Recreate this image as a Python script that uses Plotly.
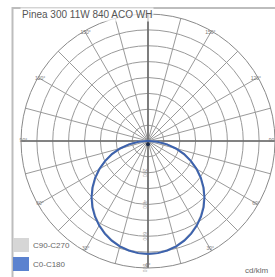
import plotly.graph_objects as go

title_text = "Pinea 300 11W 840 ACO WH"
unit_text = "cd/klm"
series_names = ["C90-C270", "C0-C180"]

gamma = [0, 5, 10, 15, 20, 25, 30, 35, 40, 45, 50, 55, 60, 65, 70, 75, 80, 85, 90, 95, 100, 110, 120, 135, 150, 165, 180]
c0_c180 = [712, 709, 700, 687, 668, 644, 615, 582, 545, 503, 457, 407, 354, 299, 242, 182, 121, 60, 8, 4, 3, 2, 2, 1, 1, 1, 1]
c90_c270 = [712, 708, 699, 685, 666, 641, 612, 579, 541, 499, 453, 403, 351, 296, 239, 180, 119, 59, 8, 4, 3, 2, 2, 1, 1, 1, 1]

ring_vals = [100, 200, 300, 400, 500, 600, 700, 800]
radial_label_vals = [200, 400, 600, 800]
angle_ticks = list(range(0, 360, 15))
label_angles = list(range(0, 360, 30))
label_texts = [f"{t if t <= 180 else 360 - t}°" for t in label_angles]

def full_curve(vals):
    th = [g for g in gamma] + [360 - g for g in reversed(gamma)]
    rr = list(vals) + list(reversed(vals))
    return th, rr

W, H = 275, 277
cx, cy, R = 148, 141, 127
dom_x = [(cx - R) / W, min(1.0, (cx + R) / W)]
dom_y = [(H - cy - R) / H, (H - cy + R) / H]

fig = go.Figure()

fig.add_trace(go.Scatterpolar(r=[800, 0, 800], theta=[90, 90, 270], mode="lines",
                              line=dict(color="#6a6a6a", width=1.6), hoverinfo="skip", showlegend=False))
fig.add_trace(go.Scatterpolar(r=[800, 0, 800], theta=[0, 0, 180], mode="lines",
                              line=dict(color="#6a6a6a", width=1.6), hoverinfo="skip", showlegend=False))

th, rr = full_curve(c90_c270)
fig.add_trace(go.Scatterpolar(r=rr, theta=th, mode="lines", name=series_names[0],
                              line=dict(color="#c8c8c8", width=2), showlegend=False))
th, rr = full_curve(c0_c180)
fig.add_trace(go.Scatterpolar(r=rr, theta=th, mode="lines", name=series_names[1],
                              line=dict(color="#3c62ad", width=2), showlegend=False))
fig.add_trace(go.Scatterpolar(r=[20], theta=[0], mode="markers",
                              marker=dict(color="#1a2a4a", size=4), hoverinfo="skip", showlegend=False))

fig.add_trace(go.Scatterpolar(r=[785] * len(label_angles), theta=label_angles, mode="text",
                              text=label_texts, textfont=dict(size=5, color="#777777", family="Liberation Sans"),
                              hoverinfo="skip", showlegend=False))

fig.update_layout(
    width=W, height=H,
    margin=dict(l=0, r=0, t=0, b=0),
    paper_bgcolor="white",
    showlegend=False,
    polar=dict(
        domain=dict(x=dom_x, y=dom_y),
        bgcolor="white",
        angularaxis=dict(rotation=270, direction="clockwise",
                         tickmode="array", tickvals=angle_ticks, showticklabels=False,
                         showline=True, linecolor="#8a8a8a", linewidth=1,
                         gridcolor="#9a9a9a", gridwidth=1, ticks=""),
        radialaxis=dict(range=[0, 800], tickmode="array", tickvals=ring_vals,
                        ticktext=[str(v) if v in radial_label_vals else "" for v in ring_vals],
                        angle=270, tickangle=0,
                        showline=False, gridcolor="#9a9a9a", gridwidth=1, ticks="",
                        tickfont=dict(size=5, color="#999999", family="Liberation Sans")),
    ),
    shapes=[
        dict(type="rect", xref="paper", yref="paper", x0=12.5 / W, x1=1.05, y0=-0.05, y1=(H - 8) / H,
             line=dict(color="#bdbdbd", width=2), fillcolor="rgba(0,0,0,0)", layer="above"),
        dict(type="rect", xref="paper", yref="paper", x0=13 / W, x1=29 / W,
             y0=(H - 252) / H, y1=(H - 238) / H, line=dict(width=0), fillcolor="#d6d6d6", layer="above"),
        dict(type="rect", xref="paper", yref="paper", x0=13 / W, x1=29 / W,
             y0=(H - 271) / H, y1=(H - 257) / H, line=dict(width=0), fillcolor="#5b82cf", layer="above"),
    ],
    annotations=[
        dict(text=title_text, xref="paper", yref="paper", x=20 / W, y=(H - 15) / H,
             xanchor="left", yanchor="middle", showarrow=False,
             font=dict(size=10, color="#555555", family="Liberation Sans"),
             bgcolor="rgba(255,255,255,0.7)"),
        dict(text=series_names[0], xref="paper", yref="paper", x=31 / W, y=(H - 245) / H,
             xanchor="left", yanchor="middle", showarrow=False,
             font=dict(size=8, color="#666666", family="Liberation Sans")),
        dict(text=series_names[1], xref="paper", yref="paper", x=31 / W, y=(H - 264) / H,
             xanchor="left", yanchor="middle", showarrow=False,
             font=dict(size=8, color="#666666", family="Liberation Sans")),
        dict(text=unit_text, xref="paper", yref="paper", x=270 / W, y=(H - 270) / H,
             xanchor="right", yanchor="middle", showarrow=False,
             font=dict(size=8, color="#666666", family="Liberation Sans")),
    ],
)

fig.write_html("out.html", config={"displayModeBar": False},
               post_script="document.body.style.margin='0';document.body.style.overflow='hidden';")
